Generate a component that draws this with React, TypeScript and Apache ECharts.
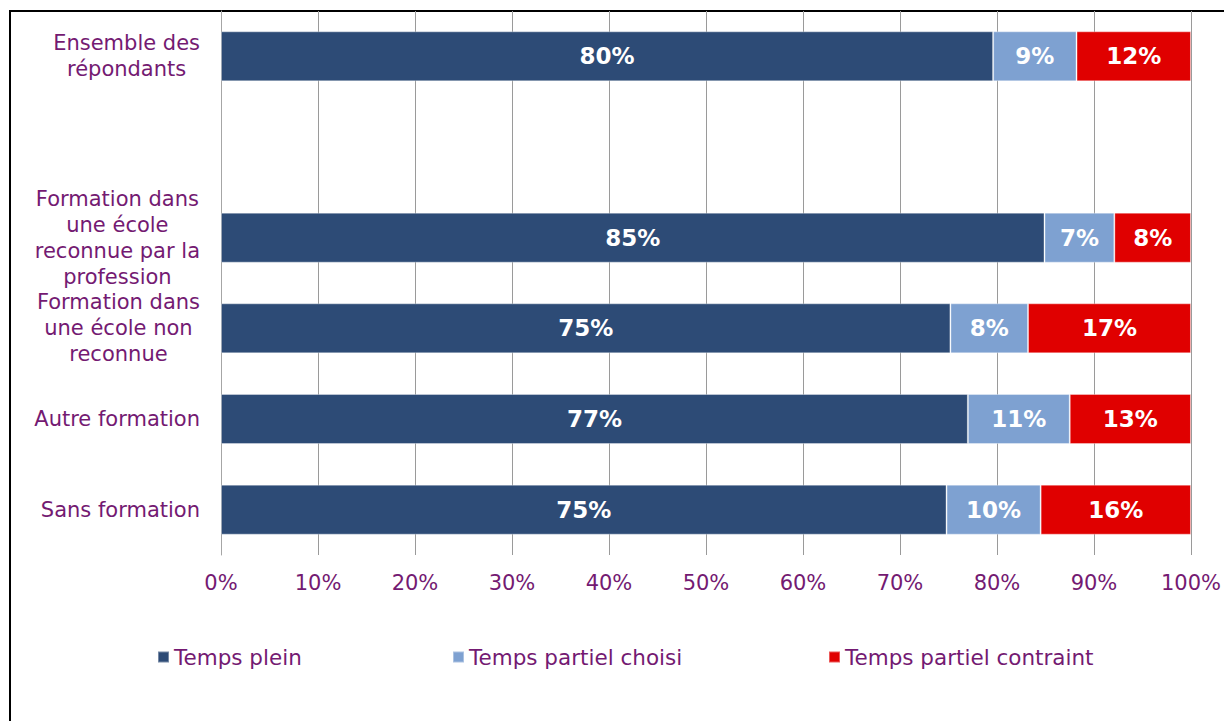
import React, { useEffect, useRef } from "react";
import * as echarts from "echarts";

const categories: string[] = [
  "Ensemble des\nrépondants",
  "",
  "Formation dans\nune école\nreconnue par la\nprofession",
  "Formation dans\nune école non\nreconnue",
  "Autre formation",
  "Sans formation",
];
const tempsPlein: (number | null)[] = [79.6, null, 84.9, 75.2, 77.0, 74.8];
const partielChoisi: (number | null)[] = [8.6, null, 7.2, 8.0, 10.5, 9.7];
const partielContraint: (number | null)[] = [11.8, null, 7.9, 16.8, 12.5, 15.5];
const seriesNames: string[] = ["Temps plein", "Temps partiel choisi", "Temps partiel contraint"];
const colors: string[] = ["#2D4B76", "#7EA1D1", "#E00000"];
const FONT = "DejaVu Sans";
const PURPLE = "#741A72";

export default function App() {
  const ref = useRef<HTMLDivElement>(null);
  useEffect(() => {
    document.body.style.margin = "0";
    if (!ref.current) return;
    const chart = echarts.init(ref.current, undefined, { renderer: "svg" });
    const data = [tempsPlein, partielChoisi, partielContraint];
    const legendLefts = [152, 447, 823];
    chart.setOption({
      animation: false,
      backgroundColor: "#ffffff",
      graphic: [
        {
          type: "rect",
          shape: { x: 10, y: 11, width: 1240, height: 740 },
          style: { fill: "none", stroke: "#000", lineWidth: 2 },
          silent: true,
        },
      ],
      grid: { left: 221, right: 33, top: 11, bottom: 166, containLabel: false },
      legend: seriesNames.map((n, i) => ({
        data: [n],
        left: legendLefts[i],
        top: 641,
        itemWidth: 11,
        itemHeight: 11,
        icon: "rect",
        itemGap: 0,
        textStyle: { fontFamily: FONT, fontSize: 21.5, color: PURPLE },
        selectedMode: false,
      })),
      xAxis: {
        type: "value",
        min: 0,
        max: 100,
        interval: 10,
        axisLine: { show: false },
        axisTick: { show: false },
        splitLine: { show: true, lineStyle: { color: "#9A9A9A", width: 1 } },
        axisLabel: {
          formatter: "{value}%",
          fontFamily: FONT,
          fontSize: 21,
          color: PURPLE,
          margin: 17,
        },
      },
      yAxis: {
        type: "category",
        data: categories,
        inverse: true,
        axisLine: { show: true, lineStyle: { color: "#A6A6A6", width: 1 } },
        axisTick: { show: false },
        axisLabel: {
          margin: 21,
          align: "right",
          fontFamily: FONT,
          fontSize: 21,
          color: PURPLE,
          lineHeight: 26,
          formatter: (v: string) =>
            v
              .split("\n")
              .map((l) => `{c|${l}}`)
              .join("\n"),
          rich: {
            c: {
              align: "center",
              fontFamily: FONT,
              fontSize: 21,
              color: PURPLE,
              lineHeight: 26,
            },
          },
        },
      },
      series: seriesNames.map((n, i) => ({
        name: n,
        type: "bar",
        stack: "total",
        barWidth: 50,
        data: data[i],
        itemStyle: { color: colors[i], borderColor: "rgba(255,255,255,0.35)", borderWidth: 1 },
        label: {
          show: true,
          position: "inside",
          color: "#fff",
          fontFamily: FONT,
          fontWeight: "bold",
          fontSize: 23,
          formatter: (p: any) => (p.value == null ? "" : `${Math.round(p.value)}%`),
        },
      })),
    });
    return () => chart.dispose();
  }, []);
  return <div ref={ref} style={{ width: 1224, height: 721 }} />;
}
